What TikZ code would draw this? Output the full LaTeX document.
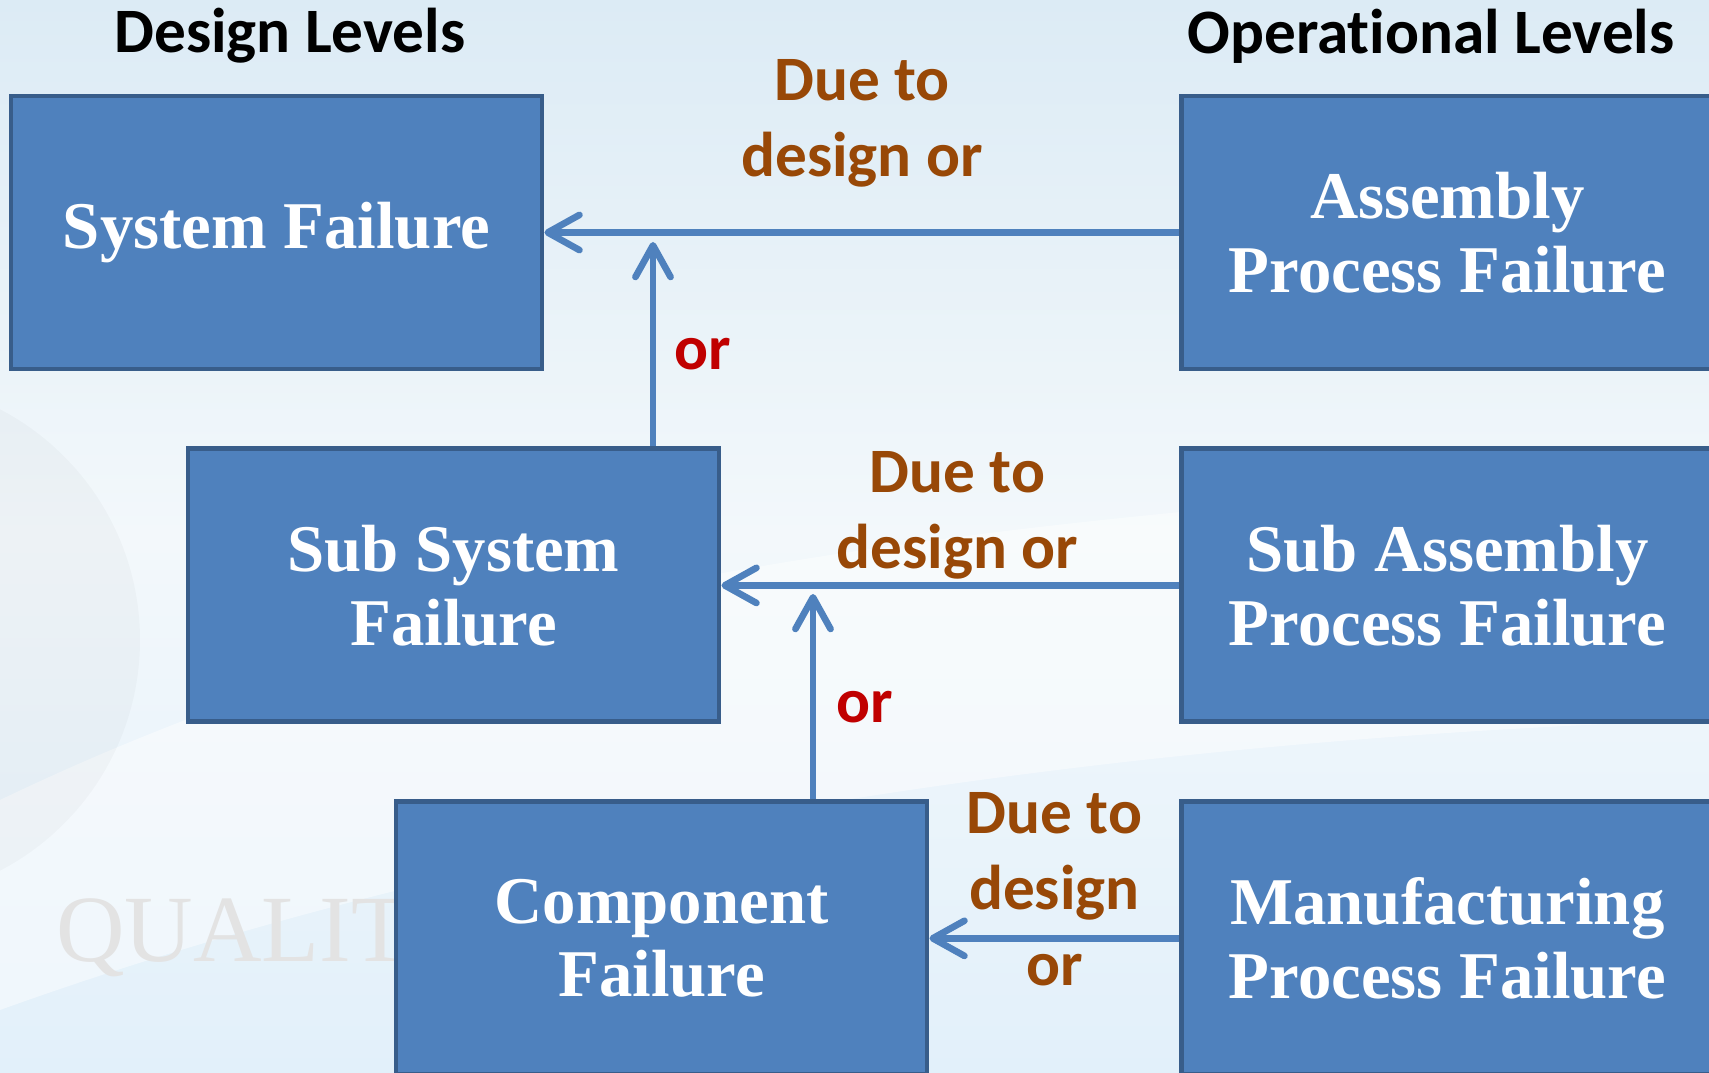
\documentclass[tikz,border=0pt]{standalone}
\usepackage{fontspec}
\setmainfont{Liberation Serif}
\newfontfamily\calfont[Ligatures=NoCommon]{Carlito}
\usetikzlibrary{arrows.meta,positioning,calc}
\definecolor{boxblue}{HTML}{4F81BD}
\definecolor{boxedge}{HTML}{385D8A}
\definecolor{duebrown}{HTML}{984807}
\definecolor{orred}{HTML}{C00000}
\definecolor{bgtop}{HTML}{DCEBF5}
\definecolor{bgmid}{HTML}{F3F8FB}
\definecolor{bgbot}{HTML}{E2F0FA}

\begin{document}
\begin{tikzpicture}[x=0.1mm,y=0.1mm,
 box/.style={draw=boxedge,line width=1.4pt,fill=boxblue,text=white,font=\fontsize{19}{21}\selectfont\bfseries,align=center,minimum width=53.1mm,minimum height=27.3mm,inner sep=0pt},
 arr/.style={-{Straight Barb[length=9pt,width=10pt,round]},line width=1.9pt,draw=boxblue},
 due/.style={text=duebrown,font=\calfont\fontsize{18}{21.6}\selectfont\bfseries,align=center},
 ortag/.style={text=orred,font=\calfont\fontsize{18}{21.6}\selectfont\bfseries},
 head/.style={font=\calfont\fontsize{18}{21.6}\selectfont\bfseries}]
\useasboundingbox (0,0) rectangle (1709,-1073);
\clip (0,0) rectangle (1709,-1073);
% background
\shade[top color=bgtop,bottom color=bgbot,middle color=bgmid] (0,0) rectangle (1709,-1073);
\fill[white,opacity=0.45] (0,-800) .. controls (500,-560) and (1000,-520) .. (1709,-470) -- (1709,-720) .. controls (1100,-740) and (500,-830) .. (0,-1010) -- cycle;
\fill[black,opacity=0.025] (-120,-640) circle (260);
\node[font=\fontsize{27}{30}\selectfont,text=black!11,anchor=base west] (wm) at (44,-962) {QUALITY};
% headings
\node[head] (dl) at (290,-36) {Design Levels};
\node[head] (ol) at (1431,-36) {Operational Levels};
% boxes
\node[box] (sys) at (276.5,-232.5) {System Failure};
\node[box,right=63.5mm of sys] (asm) {Assembly\\Process Failure};
\node[box,below=7.5mm of sys,xshift=17.7mm] (sub) {Sub System\\Failure};
\node[box,below=7.5mm of asm] (subasm) {Sub Assembly\\Process Failure};
\node[box,below=7.5mm of sub,xshift=20.8mm] (comp) {Component\\Failure};
\node[box,below=7.5mm of subasm] (mfg) {Manufacturing\\Process Failure};
% links
\coordinate (j1) at (653,-242);
\coordinate (j2) at (813,-594);
\draw[arr] (asm)--node[due,above=8.5pt] (due1) {Due to\\design or}(sys);
\draw[arr] (subasm)--node[due,above=-2.5pt,xshift=0.7mm] (due2) {Due to\\design or}(sub);
\draw[arr] (mfg)--node[due,midway,yshift=4.9mm] (due3) {Due to\\design\\or}(comp);
\draw[arr] (sub.north -| j1)--node[ortag,right,pos=0.45,xshift=0.6mm] (or1) {or}(j1);
\draw[arr] (comp.north -| j2)--node[ortag,right,pos=0.45,xshift=0.8mm] (or2) {or}(j2);
\end{tikzpicture}
\end{document}
